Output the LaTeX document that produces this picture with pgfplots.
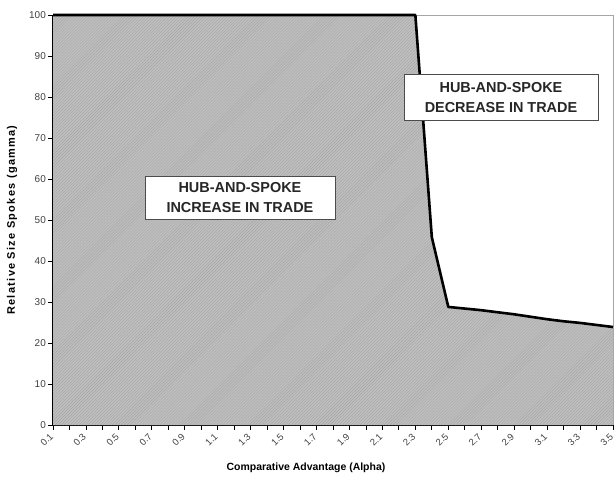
\documentclass[border=0pt]{standalone}
\usepackage{pgfplots}
\pgfplotsset{compat=1.18}
\usetikzlibrary{patterns}
\usepackage{fontspec}
\setmainfont{Liberation Sans}

\begin{document}
\begin{tikzpicture}
\begin{axis}[
    scale only axis,
    width=560bp, height=410bp,
    xmin=0.1, xmax=3.5,
    ymin=0, ymax=100,
    axis x line*=bottom, axis y line*=left,
    axis line style={black, line width=1.6bp},
    tick align=outside,
    xtick={0.1,0.3,0.5,0.7,0.9,1.1,1.3,1.5,1.7,1.9,2.1,2.3,2.5,2.7,2.9,3.1,3.3,3.5},
    minor xtick={0.2,0.4,0.6,0.8,1.0,1.2,1.4,1.6,1.8,2.0,2.2,2.4,2.6,2.8,3.0,3.2,3.4},
    ytick={0,10,...,100},
    major tick length=5bp, minor tick length=5bp,
    tick style={black, line width=0.8bp},
    xticklabel style={rotate=45, anchor=east, font=\fontsize{9.5}{10}\selectfont, text=black!75,
      inner sep=0.5bp, xshift=-4bp, yshift=-2.5bp,
      /pgf/number format/.cd, fixed, fixed zerofill, precision=1},
    yticklabel style={font=\fontsize{10}{11}\selectfont, text=black!75, inner sep=2bp},
    /pgf/number format/assume math mode=true,
    clip=false,
]
% frame top/right
\draw[gray!70, line width=0.6bp] (axis cs:0.1,100) -- (axis cs:3.5,100) -- (axis cs:3.5,0);

\addplot[draw=none, fill=gray!50, postaction={pattern=north east lines, pattern color=black!35}]
  coordinates {
  (0.1,100) (2.3,100) (2.4,45.8) (2.5,28.8) (2.6,28.4) (2.7,28.0) (2.8,27.5) (2.9,27.0)
  (3.0,26.4) (3.1,25.8) (3.2,25.3) (3.3,24.9) (3.4,24.4) (3.5,23.9)
  } \closedcycle;

\addplot[black, line width=2.6bp, line join=round]
  coordinates {
  (0.1,100) (2.3,100) (2.4,45.8) (2.5,28.8) (2.6,28.4) (2.7,28.0) (2.8,27.5) (2.9,27.0)
  (3.0,26.4) (3.1,25.8) (3.2,25.3) (3.3,24.9) (3.4,24.4) (3.5,23.9)
  };

\node[draw=black!70, fill=white, align=center, font=\bfseries\fontsize{14.5}{20}\selectfont,
      text=black!85, minimum width=190bp, minimum height=43bp, inner sep=2bp, line width=0.8bp]
  at (axis cs:1.235,55.5) {HUB-AND-SPOKE\\INCREASE IN TRADE};
\node[draw=black!70, fill=white, align=center, font=\bfseries\fontsize{14.5}{20}\selectfont,
      text=black!85, minimum width=194bp, minimum height=46bp, inner sep=2bp, line width=0.8bp]
  at (axis cs:2.82,79.8) {HUB-AND-SPOKE\\DECREASE IN TRADE};
\end{axis}
\node[font=\bfseries\fontsize{10.5}{12}\selectfont] at ([shift={(-27bp,-43bp)}]current axis.south)
  {Comparative Advantage (Alpha)};
\node[rotate=90, font=\bfseries\fontsize{11}{12}\selectfont\addfontfeatures{LetterSpace=12}]
  at ([xshift=-41bp]current axis.west) {Relative Size Spokes (gamma)};
\pgfresetboundingbox
\path[use as bounding box] ([shift={(-53bp,-55bp)}]current axis.south west)
  rectangle ([shift={(1bp,15bp)}]current axis.north east);
\end{tikzpicture}
\end{document}
